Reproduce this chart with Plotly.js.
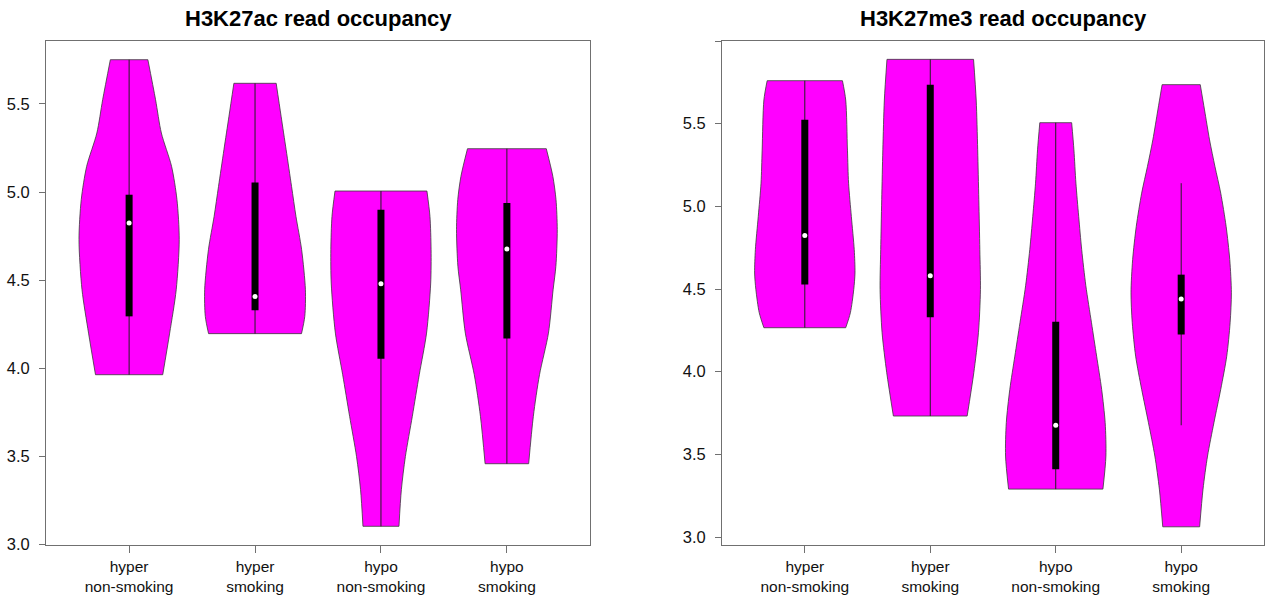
<!DOCTYPE html>
<html>
<head>
<meta charset="utf-8">
<script src="https://cdn.plot.ly/plotly-3.0.1.min.js"></script>
<style>
html,body{margin:0;padding:0;background:#fff;}
#chart{width:1270px;height:597px;}
</style>
</head>
<body>
<div id="chart"></div>
<script>
// ---------- Data ----------
const categories = ['hyper<br>non-smoking', 'hyper<br>smoking', 'hypo<br>non-smoking', 'hypo<br>smoking'];
const panelTitles = ['H3K27ac read occupancy', 'H3K27me3 read occupancy'];
const yTickVals = [3.0, 3.5, 4.0, 4.5, 5.0, 5.5, 6.0];

// H3K27ac: violin outline (value levels and half-widths in category units)
const acLevels1 = [3.964, 4.2, 4.446, 4.73, 4.957, 5.146, 5.335, 5.524, 5.751];
const acWidths1 = [0.267, 0.322, 0.374, 0.398, 0.38, 0.337, 0.256, 0.21, 0.149];
const acLevels2 = [4.197, 4.295, 4.446, 4.673, 4.862, 5.032, 5.24, 5.43, 5.617];
const acWidths2 = [0.369, 0.395, 0.40, 0.37, 0.325, 0.29, 0.247, 0.207, 0.168];
const acLevels3 = [3.104, 3.312, 3.5, 3.728, 3.964, 4.2, 4.484, 4.673, 4.862, 5.006];
const acWidths3 = [0.143, 0.162, 0.194, 0.249, 0.304, 0.362, 0.395, 0.398, 0.389, 0.365];
const acLevels4 = [3.459, 3.728, 3.964, 4.2, 4.446, 4.579, 4.787, 4.957, 5.089, 5.246];
const acWidths4 = [0.173, 0.21, 0.259, 0.33, 0.367, 0.389, 0.4, 0.39, 0.365, 0.313];
// H3K27ac: box statistics per group
const acWhiskerLow  = [3.964, 4.197, 3.104, 3.459];
const acQ1          = [4.295, 4.329, 4.055, 4.17];
const acMedian      = [4.825, 4.408, 4.48, 4.677];
const acQ3          = [4.985, 5.055, 4.9, 4.938];
const acWhiskerHigh = [5.751, 5.617, 5.006, 5.246];

// H3K27me3: violin outline
const meLevels1 = [4.266, 4.356, 4.497, 4.597, 4.738, 4.939, 5.14, 5.34, 5.643, 5.76];
const meWidths1 = [0.326, 0.363, 0.39, 0.4, 0.394, 0.371, 0.349, 0.34, 0.326, 0.30];
const meLevels2 = [3.732, 3.994, 4.236, 4.497, 4.738, 5.04, 5.342, 5.643, 5.889];
const meWidths2 = [0.294, 0.347, 0.384, 0.4, 0.395, 0.387, 0.378, 0.366, 0.345];
const meLevels3 = [3.29, 3.49, 3.692, 3.893, 4.094, 4.296, 4.52, 4.738, 4.939, 5.14, 5.342, 5.506];
const meWidths3 = [0.376, 0.4, 0.394, 0.366, 0.326, 0.285, 0.24, 0.207, 0.183, 0.161, 0.145, 0.127];
const meLevels4 = [3.062, 3.29, 3.49, 3.692, 3.893, 4.094, 4.296, 4.477, 4.678, 4.879, 5.08, 5.241, 5.402, 5.583, 5.736];
const meWidths4 = [0.147, 0.174, 0.21, 0.261, 0.315, 0.363, 0.39, 0.4, 0.387, 0.358, 0.315, 0.269, 0.226, 0.186, 0.152];
// H3K27me3: box statistics per group
const meWhiskerLow  = [4.266, 3.732, 3.29, 3.676];
const meQ1          = [4.527, 4.33, 3.41, 4.225];
const meMedian      = [4.824, 4.581, 3.676, 4.44];
const meQ3          = [5.523, 5.736, 4.302, 4.587];
const meWhiskerHigh = [5.76, 5.889, 5.506, 5.14];

// ---------- Build traces ----------
const W = 1270, H = 597;
const panels = [
  {xa:'x',  ya:'y',  levels:[acLevels1,acLevels2,acLevels3,acLevels4], widths:[acWidths1,acWidths2,acWidths3,acWidths4],
   lo:acWhiskerLow, q1:acQ1, med:acMedian, q3:acQ3, hi:acWhiskerHigh},
  {xa:'x2', ya:'y2', levels:[meLevels1,meLevels2,meLevels3,meLevels4], widths:[meWidths1,meWidths2,meWidths3,meWidths4],
   lo:meWhiskerLow, q1:meQ1, med:meMedian, q3:meQ3, hi:meWhiskerHigh}
];

const outline = {color:'#3a3a3a', width:0.8, shape:'spline', smoothing:0.8};
const traces = [];
panels.forEach(p => {
  for (let i = 0; i < 4; i++) {
    const c = i + 1;
    const lv = p.levels[i], wd = p.widths[i];
    const n = lv.length;
    // left side (open path)
    traces.push({type:'scatter', mode:'lines', x:wd.map(w => c - w), y:lv, xaxis:p.xa, yaxis:p.ya,
      line:outline, hoverinfo:'skip', showlegend:false});
    // right side, filled to left side (flat, sharp top and bottom)
    traces.push({type:'scatter', mode:'lines', x:wd.map(w => c + w), y:lv, xaxis:p.xa, yaxis:p.ya,
      fill:'tonextx', fillcolor:'#FF00FF', line:outline, hoverinfo:'skip', showlegend:false});
    // flat bottom and top edges
    traces.push({type:'scatter', mode:'lines',
      x:[c - wd[0], c + wd[0], null, c - wd[n-1], c + wd[n-1]],
      y:[lv[0], lv[0], null, lv[n-1], lv[n-1]], xaxis:p.xa, yaxis:p.ya,
      line:{color:'#3a3a3a', width:0.8}, hoverinfo:'skip', showlegend:false});
    // whisker
    traces.push({type:'scatter', mode:'lines', x:[c, c], y:[p.lo[i], p.hi[i]], xaxis:p.xa, yaxis:p.ya,
      line:{color:'#222', width:1}, hoverinfo:'skip', showlegend:false});
    // box
    traces.push({type:'scatter', mode:'lines', x:[c, c], y:[p.q1[i], p.q3[i]], xaxis:p.xa, yaxis:p.ya,
      line:{color:'#000', width:7}, hoverinfo:'skip', showlegend:false});
    // median
    traces.push({type:'scatter', mode:'markers', x:[c], y:[p.med[i]], xaxis:p.xa, yaxis:p.ya,
      marker:{color:'#fff', size:5, line:{width:0}}, hoverinfo:'skip', showlegend:false});
  }
});

const font = {family:'"Liberation Sans", Arial, sans-serif', size:16, color:'#111'};
const xCommon = {
  range:[0.34, 4.66], tickvals:[1,2,3,4], ticktext:categories,
  showline:true, mirror:true, linecolor:'#707070', linewidth:1,
  ticks:'outside', ticklen:7, tickcolor:'#707070', showgrid:false, zeroline:false,
  tickfont:{family:font.family, size:15.5, color:'#111'}, fixedrange:true
};
const yCommon = {
  tickvals:yTickVals, ticktext:['3.0','3.5','4.0','4.5','5.0','5.5','6.0'],
  showline:true, mirror:true, linecolor:'#707070', linewidth:1,
  ticks:'outside', ticklen:6, tickcolor:'#707070', showgrid:false, zeroline:false,
  tickfont:{family:font.family, size:16.5, color:'#111'}, ticklabelstandoff:6, fixedrange:true
};
const yDom = [(H - 545) / H, (H - 41) / H];
const layout = {
  width:W, height:H, margin:{l:0, r:0, t:0, b:0},
  paper_bgcolor:'#fff', plot_bgcolor:'#fff', font:font, showlegend:false,
  xaxis:Object.assign({}, xCommon, {domain:[46 / W, 590 / W], anchor:'y'}),
  yaxis:Object.assign({}, yCommon, {domain:yDom, range:[2.998, 5.857], anchor:'x',
    tickvals:yTickVals.slice(0, 6), ticktext:['3.0','3.5','4.0','4.5','5.0','5.5']}),
  xaxis2:Object.assign({}, xCommon, {domain:[722 / W, 1264 / W], anchor:'y2'}),
  yaxis2:Object.assign({}, yCommon, {domain:yDom, range:[2.952, 6.0], anchor:'x2',
    ticktext:['3.0','3.5','4.0','4.5','5.0','5.5','']}),
  annotations:[
    {text:'<b>' + panelTitles[0] + '</b>', xref:'paper', yref:'paper', x:319 / W, y:1 - 18 / H,
     xanchor:'center', yanchor:'middle', showarrow:false, font:{family:font.family, size:22, color:'#000'}},
    {text:'<b>' + panelTitles[1] + '</b>', xref:'paper', yref:'paper', x:1003 / W, y:1 - 18 / H,
     xanchor:'center', yanchor:'middle', showarrow:false, font:{family:font.family, size:22, color:'#000'}}
  ]
};
Plotly.newPlot('chart', traces, layout, {staticPlot:true, displayModeBar:false});
</script>
</body>
</html>
